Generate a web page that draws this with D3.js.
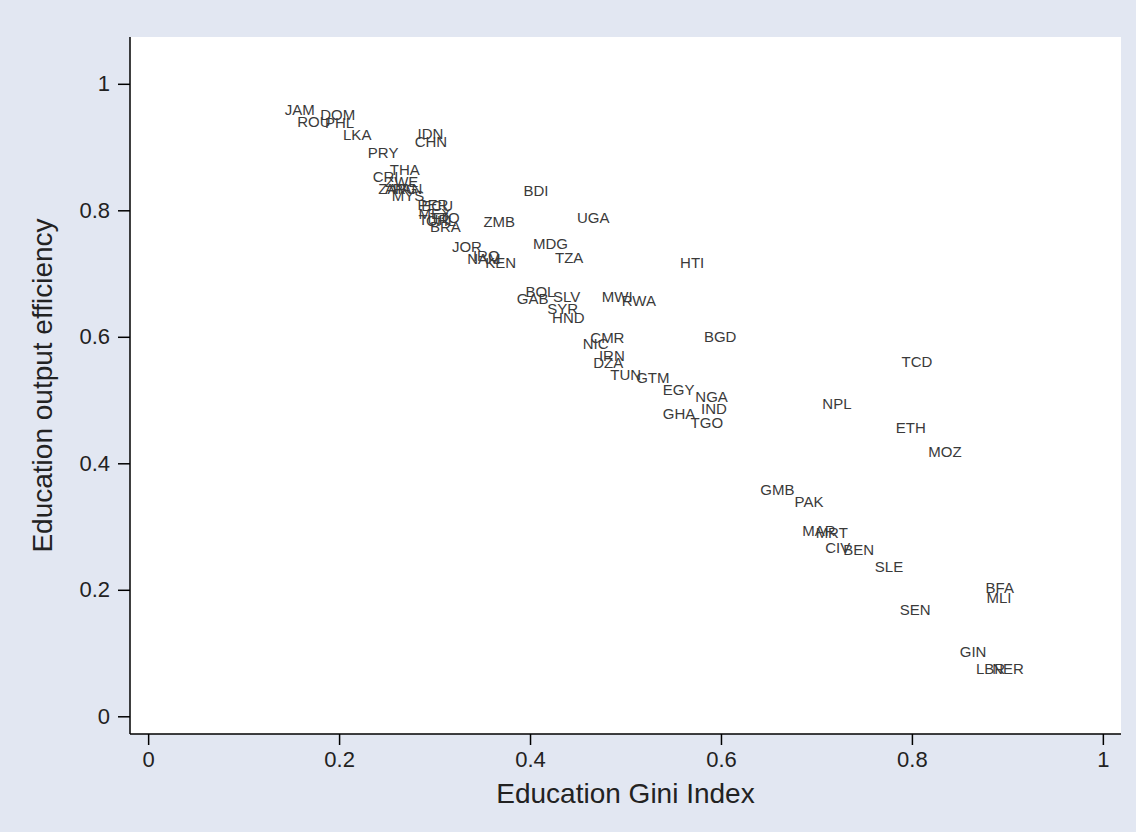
<!DOCTYPE html>
<html>
<head>
<meta charset="utf-8">
<script src="https://cdn.jsdelivr.net/npm/d3@7"></script>
<style>
  body { margin: 0; background: #e2e7f2; }
  text { font-family: "Liberation Sans", Arial, sans-serif; }
</style>
</head>
<body>
<div id="chart"></div>
<script>
// Chart Params
var svgWidth = 1136;
var svgHeight = 832;

var margin = { top: 37, right: 15, bottom: 98, left: 130 };
var width = svgWidth - margin.left - margin.right;
var height = svgHeight - margin.top - margin.bottom;

// data
var countries = ["JAM","DOM","ROU","PHL","LKA","IDN","CHN","PRY","THA","CRI",
  "ZWE","ZAF","ARG","PAN","MYS","PER","ECU","MEX","TUR","CHL","TTO","BRA",
  "ZMB","BDI","UGA","JOR","NAM","IRQ","KEN","MDG","TZA","HTI","GAB","BOL",
  "SLV","SYR","HND","MWI","RWA","CMR","NIC","BGD","IRN","DZA","TUN","GTM",
  "EGY","NGA","IND","GHA","TGO","TCD","NPL","ETH","MOZ","GMB","PAK","MAR",
  "MRT","CIV","BEN","SLE","BFA","MLI","SEN","GIN","LBR","NER"];
var gini = [0.140,0.177,0.153,0.182,0.201,0.279,0.276,0.227,0.250,0.232,
  0.245,0.238,0.245,0.253,0.252,0.279,0.283,0.280,0.280,0.288,0.292,0.292,
  0.348,0.390,0.446,0.315,0.331,0.337,0.350,0.400,0.423,0.554,0.383,0.392,
  0.421,0.415,0.420,0.472,0.493,0.460,0.452,0.579,0.469,0.463,0.481,0.508,
  0.536,0.570,0.576,0.536,0.565,0.786,0.703,0.780,0.814,0.638,0.674,0.682,
  0.696,0.706,0.725,0.758,0.874,0.875,0.784,0.847,0.864,0.881];
var efficiency = [0.959,0.951,0.940,0.938,0.919,0.922,0.908,0.892,0.864,0.854,
  0.845,0.835,0.835,0.834,0.824,0.809,0.807,0.794,0.785,0.783,0.788,0.774,
  0.782,0.831,0.788,0.742,0.723,0.728,0.717,0.748,0.726,0.718,0.661,0.671,
  0.663,0.644,0.630,0.663,0.658,0.598,0.589,0.600,0.570,0.559,0.540,0.535,
  0.516,0.505,0.486,0.479,0.465,0.560,0.494,0.457,0.419,0.359,0.340,0.293,
  0.291,0.267,0.264,0.236,0.204,0.188,0.168,0.103,0.076,0.076];
var xTicks = [0, 0.2, 0.4, 0.6, 0.8, 1];
var yTicks = [0, 0.2, 0.4, 0.6, 0.8, 1];

var data = countries.map((c, i) => ({ abbr: c, x: gini[i], y: efficiency[i] }));

var svg = d3.select("#chart")
  .append("svg")
  .attr("width", svgWidth)
  .attr("height", svgHeight);

svg.append("rect")
  .attr("width", svgWidth)
  .attr("height", svgHeight)
  .attr("fill", "#e2e7f2");

var chartGroup = svg.append("g")
  .attr("transform", `translate(${margin.left}, ${margin.top})`);

// plot region
chartGroup.append("rect")
  .attr("width", width)
  .attr("height", height)
  .attr("fill", "#ffffff");

var xscale = d3.scaleLinear().domain([-0.019, 1.019]).range([0, width]);
var yscale = d3.scaleLinear().domain([-0.028, 1.074]).range([height, 0]);

var bottomaxis = d3.axisBottom(xscale).tickValues(xTicks).tickFormat(d3.format("")).tickSize(11).tickPadding(6);
var leftaxis = d3.axisLeft(yscale).tickValues(yTicks).tickFormat(d3.format("")).tickSize(12).tickPadding(8);

var xAxis = chartGroup.append("g")
  .attr("transform", `translate(0, ${height})`)
  .call(bottomaxis);
var yAxis = chartGroup.append("g").call(leftaxis);

[xAxis, yAxis].forEach(a => {
  a.select(".domain").attr("stroke", "#000").attr("stroke-width", 1.5);
  a.selectAll(".tick line").attr("stroke", "#000").attr("stroke-width", 1.5);
  a.selectAll(".tick text")
    .attr("font-size", "22px")
    .attr("fill", "#222")
    .style("font-family", "'Liberation Sans', Arial, sans-serif");
});
// straight domain lines, no outer ticks
xAxis.select(".domain").attr("d", `M0,0H${width}`);
yAxis.select(".domain").attr("d", `M0,0V${height}`);

// country labels (no markers, label to the right)
chartGroup.selectAll(".stateText")
  .data(data)
  .enter()
  .append("text")
  .attr("class", "stateText")
  .attr("x", d => xscale(d.x) + 3)
  .attr("y", d => yscale(d.y))
  .attr("dy", "0.36em")
  .attr("font-size", "15px")
  .attr("fill", "#3a3a3a")
  .text(d => d.abbr);

// axis titles
svg.append("text")
  .attr("x", margin.left + width / 2)
  .attr("y", 803)
  .attr("text-anchor", "middle")
  .attr("font-size", "28px")
  .attr("fill", "#222")
  .text("Education Gini Index");

svg.append("text")
  .attr("transform", `translate(52, ${margin.top + height / 2}) rotate(-90)`)
  .attr("text-anchor", "middle")
  .attr("font-size", "28px")
  .attr("fill", "#222")
  .text("Education output efficiency");
</script>
</body>
</html>
